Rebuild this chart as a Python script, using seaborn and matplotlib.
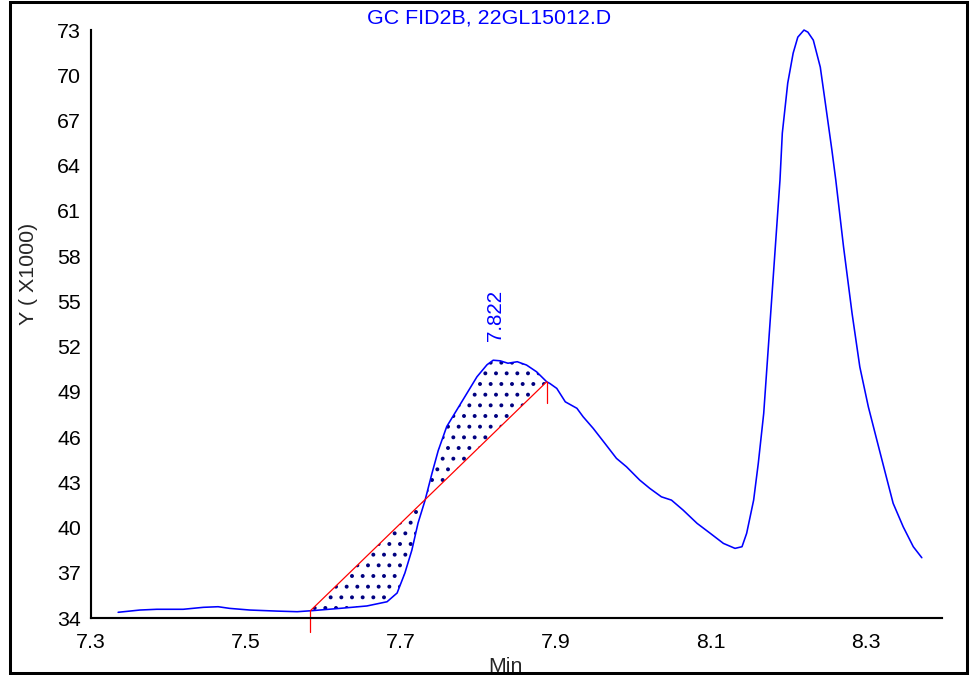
import numpy as np
import matplotlib.pyplot as plt
import matplotlib.patches as patches
import seaborn as sns

# chromatogram trace (minutes, counts x1000)
time_min = [7.335, 7.363, 7.385, 7.419, 7.445, 7.464, 7.479, 7.505, 7.540, 7.566,
            7.583, 7.621, 7.656, 7.682, 7.695, 7.705, 7.714, 7.722, 7.731, 7.740,
            7.748, 7.759, 7.772, 7.785, 7.798, 7.811, 7.819, 7.828, 7.838, 7.850,
            7.862, 7.875, 7.888, 7.892, 7.901, 7.912, 7.927, 7.935, 7.948, 7.963,
            7.978, 7.991, 8.008, 8.021, 8.036, 8.049, 8.064, 8.082, 8.099, 8.116,
            8.131, 8.140, 8.146, 8.155, 8.161, 8.168, 8.174, 8.180, 8.189, 8.192,
            8.199, 8.206, 8.212, 8.220, 8.225, 8.232, 8.241, 8.247, 8.256, 8.261,
            8.271, 8.282, 8.292, 8.303, 8.314, 8.325, 8.335, 8.348, 8.361, 8.372]
signal_k = [34.38, 34.53, 34.58, 34.58, 34.71, 34.75, 34.64, 34.53, 34.46, 34.42,
            34.48, 34.64, 34.80, 35.08, 35.66, 36.98, 38.50, 40.30, 41.80, 43.60,
            45.10, 46.70, 47.80, 48.90, 50.00, 50.80, 51.10, 51.06, 50.90, 51.00,
            50.78, 50.33, 49.67, 49.56, 49.23, 48.34, 47.91, 47.35, 46.58, 45.59,
            44.59, 44.03, 43.15, 42.60, 42.04, 41.82, 41.16, 40.28, 39.62, 38.95,
            38.62, 38.73, 39.62, 41.82, 44.26, 47.57, 51.99, 56.41, 63.05, 66.16,
            69.48, 71.47, 72.53, 73.00, 72.86, 72.33, 70.54, 68.35, 65.03, 63.05,
            58.62, 54.21, 50.66, 48.01, 45.80, 43.60, 41.61, 40.05, 38.73, 38.00]

# integration baseline (start, end)
base_t = [7.583, 7.888]
base_y = [34.48, 49.67]
peak_rt = 7.822

x_ticks = [7.3, 7.4, 7.5, 7.6, 7.7, 7.8, 7.9, 8.0, 8.1, 8.2, 8.3]
x_labels = ['7.3', '', '7.5', '', '7.7', '', '7.9', '', '8.1', '', '8.3']
y_ticks = [34, 37, 40, 43, 46, 49, 52, 55, 58, 61, 64, 67, 70, 73]

sns.set_style('white')
plt.rcParams['font.family'] = ['Liberation Sans', 'DejaVu Sans']
plt.rcParams['hatch.linewidth'] = 1.0
plt.rcParams['hatch.color'] = '#000080'

DPI = 128
fig = plt.figure(figsize=(972 / DPI, 675 / DPI), dpi=DPI)
ax = fig.add_axes([0.0936, 0.0844, 0.8755, 0.8711])

sns.lineplot(x=time_min, y=signal_k, color='#0000ff', linewidth=0.9, ax=ax, clip_on=False)

# hatched peak area between trace and baseline
t = np.array(time_min)
s = np.array(signal_k)
m = (t >= base_t[0]) & (t <= base_t[1])
ax.fill_between(t[m], s[m], np.interp(t[m], base_t, base_y),
                facecolor='none', edgecolor='#000080', hatch='..', linewidth=0)

ax.plot(base_t, base_y, color='#ff0000', linewidth=0.7)
for bt, by in zip(base_t, base_y):
    ax.plot([bt, bt], [by, by - 1.4], color='#ff0000', linewidth=0.7, clip_on=False)

ax.text(peak_rt, 52.4, f'{peak_rt:.3f}', rotation=90, ha='center', va='bottom',
        color='#0000ff', fontsize=11.5)

ax.set_xlim(7.3, 8.398)
ax.set_ylim(34, 73)
ax.set_xticks(x_ticks)
ax.set_xticklabels(x_labels)
ax.set_yticks(y_ticks)
ax.tick_params(axis='x', length=6.2, width=1.2, pad=2.5, labelsize=12, colors='black')
ax.tick_params(axis='y', length=5, width=1.2, pad=0.5, labelsize=12, colors='black')
ax.set_xlabel('')
ax.set_ylabel('')
sns.despine(ax=ax)
for side in ['left', 'bottom']:
    ax.spines[side].set_linewidth(1.2)
    ax.spines[side].set_color('black')

fig.text(489 / 972, 1 - 18 / 675, 'GC FID2B, 22GL15012.D', ha='center', va='center',
         color='#0000ff', fontsize=12)
fig.text(505 / 972, 1 - 667 / 675, 'Min', ha='center', va='center', fontsize=12)
fig.text(28 / 972, 1 - 274 / 675, 'Y ( X1000)', ha='center', va='center',
         rotation=90, fontsize=12)

fig.patches.append(patches.Rectangle((10 / 972, 2 / 675), 957 / 972, 671 / 675,
                                     transform=fig.transFigure, fill=False,
                                     edgecolor='black', linewidth=1.7))

fig.savefig('out.png', dpi=DPI)
